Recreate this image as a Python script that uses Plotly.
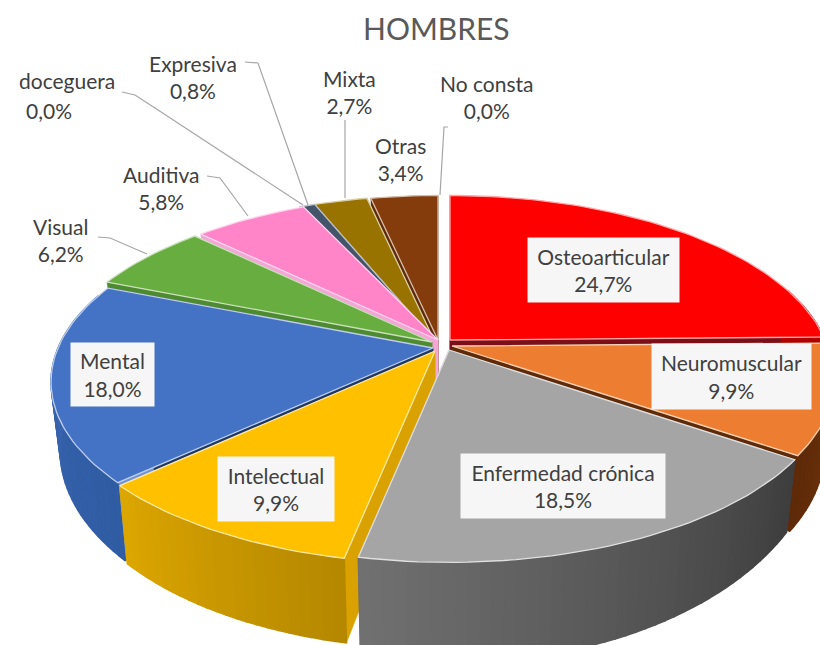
import math
import plotly.graph_objects as go

CATEGORIES = ["Osteoarticular", "Neuromuscular", "Enfermedad crónica", "Intelectual", "Mental",
              "Visual", "Auditiva", "Sordoceguera", "Expresiva", "Mixta", "Otras", "No consta"]
VALUES = [24.7, 9.9, 18.5, 9.9, 18.0, 6.2, 5.8, 0.0, 0.8, 2.7, 3.4, 0.0]
TOP_COLORS = ["#FF0000", "#ED7D31", "#A5A5A5", "#FFC000", "#4472C4", "#68AD40", "#FF85C8",
              "#264478", "#44546A", "#997300", "#843C0C", "#636363"]
SIDE_FROM = ["#B00000", "#7A3A10", "#3E3E3E", "#B58800", "#2F5CA3", "#4B7F2E", "#C060A0",
             "#1A2F55", "#2F3A4A", "#6E5300", "#5E2A08", "#444444"]
SIDE_TO = ["#B00000", "#5E2A08", "#707070", "#DCA600", "#3F69B5", "#4B7F2E", "#C060A0",
           "#1A2F55", "#2F3A4A", "#6E5300", "#5E2A08", "#444444"]
CUT_COLORS = ["#7A0F1A", "#5E2A08", "#555555", "#D9A200", "#1F3864", "#4E8A30", "#F4A6D6",
              "#1A2F55", "#2F3A4A", "#6E5300", "#5E2A08", "#444444"]

# apex of every exploded wedge in the projected plane
APEX = {"Osteoarticular": (450, 340), "Neuromuscular": (452, 346), "Enfermedad crónica": (449, 350),
        "Intelectual": (435, 351), "Mental": (433, 348), "Visual": (432, 342), "Auditiva": (438, 340),
        "Expresiva": (434, 340), "Mixta": (434, 340), "Otras": (438, 340)}
PAINT_ORDER = ["Otras", "Mixta", "Expresiva", "Auditiva", "Visual", "Osteoarticular",
               "Mental", "Neuromuscular", "Intelectual", "Enfermedad crónica"]
# wall depth: constant part and growth toward the viewer
DEPTH = {"Enfermedad crónica": (43, 1.27)}
CUT_TIP = {"Mental": "#6F93D6"}

RX, RY, K = 375.0, 172.0, 0.19


def hex_rgb(c):
    return tuple(int(c[i:i + 2], 16) for i in (1, 3, 5))


def mix(a, b, t):
    ra, rb = hex_rgb(a), hex_rgb(b)
    return "#%02X%02X%02X" % tuple(round(x + (y - x) * t) for x, y in zip(ra, rb))


def top_pt(ap, deg, r=1.0):
    u, v = r * math.sin(math.radians(deg)), -r * math.cos(math.radians(deg))
    d = 1 - K * v
    return ap[0] + RX * u / d, ap[1] + RY * v / d


def bot_pt(ap, deg, r=1.0, depth=(66, 1.09)):
    x, y = top_pt(ap, deg, r)
    return ap[0] + 0.976 * (x - ap[0]), ap[1] + depth[0] + depth[1] * (y - ap[1])


def poly(fig, pts, fill, line=None, width=1.5):
    xs = [p[0] for p in pts] + [pts[0][0]]
    ys = [p[1] for p in pts] + [pts[0][1]]
    fig.add_trace(go.Scatter(x=xs, y=ys, mode="lines", fill="toself", fillcolor=fill,
                             line=dict(color=line or fill, width=width),
                             hoverinfo="skip", showlegend=False))


fig = go.Figure()

ranges = {}
acc = 0.0
total = sum(VALUES)
for name, val in zip(CATEGORIES, VALUES):
    ranges[name] = (acc / total * 360, (acc + val) / total * 360)
    acc += val

for name in PAINT_ORDER:
    i = CATEGORIES.index(name)
    a0, a1 = ranges[name]
    ap = APEX[name]
    dep = DEPTH.get(name, (66, 1.09))
    n = max(4, int((a1 - a0) / 1.5))
    angles = [a0 + (a1 - a0) * j / n for j in range(n + 1)]
    # radial cut faces
    for ang in (a1, a0):
        poly(fig, [top_pt(ap, ang, 0.0), top_pt(ap, ang), bot_pt(ap, ang, 1.0, dep), bot_pt(ap, ang, 0.0, dep)],
             CUT_COLORS[i], width=0.5)
    if name in CUT_TIP:
        ang = a0
        poly(fig, [top_pt(ap, ang, 0.9), top_pt(ap, ang), bot_pt(ap, ang, 1.0, dep), bot_pt(ap, ang, 0.9, dep)],
             CUT_TIP[name], width=0.5)
    # outer wall
    for j in range(n):
        if -math.cos(math.radians(angles[j])) < -0.3 and -math.cos(math.radians(angles[j + 1])) < -0.3:
            continue
        col = mix(SIDE_FROM[i], SIDE_TO[i], j / max(n - 1, 1))
        poly(fig, [top_pt(ap, angles[j]), top_pt(ap, angles[j + 1]),
                   bot_pt(ap, angles[j + 1], 1.0, dep), bot_pt(ap, angles[j], 1.0, dep)], col)
    # top face with pale rim
    pts = [top_pt(ap, 0, 0.0)] + [top_pt(ap, a) for a in angles]
    poly(fig, pts, TOP_COLORS[i], line=mix(TOP_COLORS[i], "#FFFFFF", 0.65), width=1.3)

# leader lines
LEADERS = [
    [(245, 62), (258, 63), (308, 205)],
    [(122, 92), (135, 95), (155, 108), (303, 205)],
    [(207, 176), (220, 178), (248, 216)],
    [(98, 237), (110, 238), (147, 254)],
    [(345, 120), (345, 198)],
    [(448, 127), (444, 127), (440, 195)],
]
for pts in LEADERS:
    fig.add_trace(go.Scatter(x=[p[0] for p in pts], y=[p[1] for p in pts], mode="lines",
                             line=dict(color="#A6A6A6", width=1.2), hoverinfo="skip", showlegend=False))


def pct(name):
    return f"{VALUES[CATEGORIES.index(name)]:.1f}".replace(".", ",") + "%"


FONT = "Lato, Carlito, Calibri, sans-serif"
TXT = "#404040"
SIZE = 21
annotations = [dict(x=436, y=28, text="HOMBRES", showarrow=False, xanchor="center", yanchor="middle",
                    font=dict(family=FONT, size=30, color="#595959"))]

INNER = {"Osteoarticular": (603, 270, 149, 62), "Neuromuscular": (731, 376, 157, 63),
         "Enfermedad crónica": (563, 486, 202, 62), "Intelectual": (276, 489, 114, 62),
         "Mental": (112, 374, 81, 61)}
for name, (x, y, w, h) in INNER.items():
    annotations.append(dict(x=x, y=y, text=f"{name}<br>{pct(name)}", showarrow=False, width=w, height=h,
                            bgcolor="#F6F6F6", align="center", valign="middle", xanchor="center",
                            yanchor="middle", font=dict(family=FONT, size=SIZE, color=TXT)))

OUTER = {"Expresiva": (193, 77), "Auditiva": (161, 188), "Visual": (60, 240),
         "Mixta": (349, 92), "Otras": (400, 159), "No consta": (487, 97)}
for name, (x, y) in OUTER.items():
    annotations.append(dict(x=x, y=y, text=f"{name}<br>{pct(name)}", showarrow=False, align="center",
                            xanchor="center", yanchor="middle", font=dict(family=FONT, size=SIZE, color=TXT)))

# the Sordoceguera label is cut by the picture's frame: only its tail is shown
annotations.append(dict(x=67, y=80, text="doceguera", showarrow=False, xanchor="center", yanchor="middle",
                        font=dict(family=FONT, size=SIZE, color=TXT)))
annotations.append(dict(x=49, y=110, text=pct("Sordoceguera"), showarrow=False, xanchor="center", yanchor="middle",
                        font=dict(family=FONT, size=SIZE, color=TXT)))

fig.update_layout(width=820, height=645, margin=dict(l=0, r=0, t=0, b=0), autosize=False,
                  paper_bgcolor="white", plot_bgcolor="white", showlegend=False,
                  xaxis=dict(range=[0, 820], visible=False, fixedrange=True),
                  yaxis=dict(range=[645, 0], visible=False, fixedrange=True),
                  annotations=annotations)

fig.write_html("out.html", config={"displayModeBar": False},
               post_script="document.body.style.margin='0';")
